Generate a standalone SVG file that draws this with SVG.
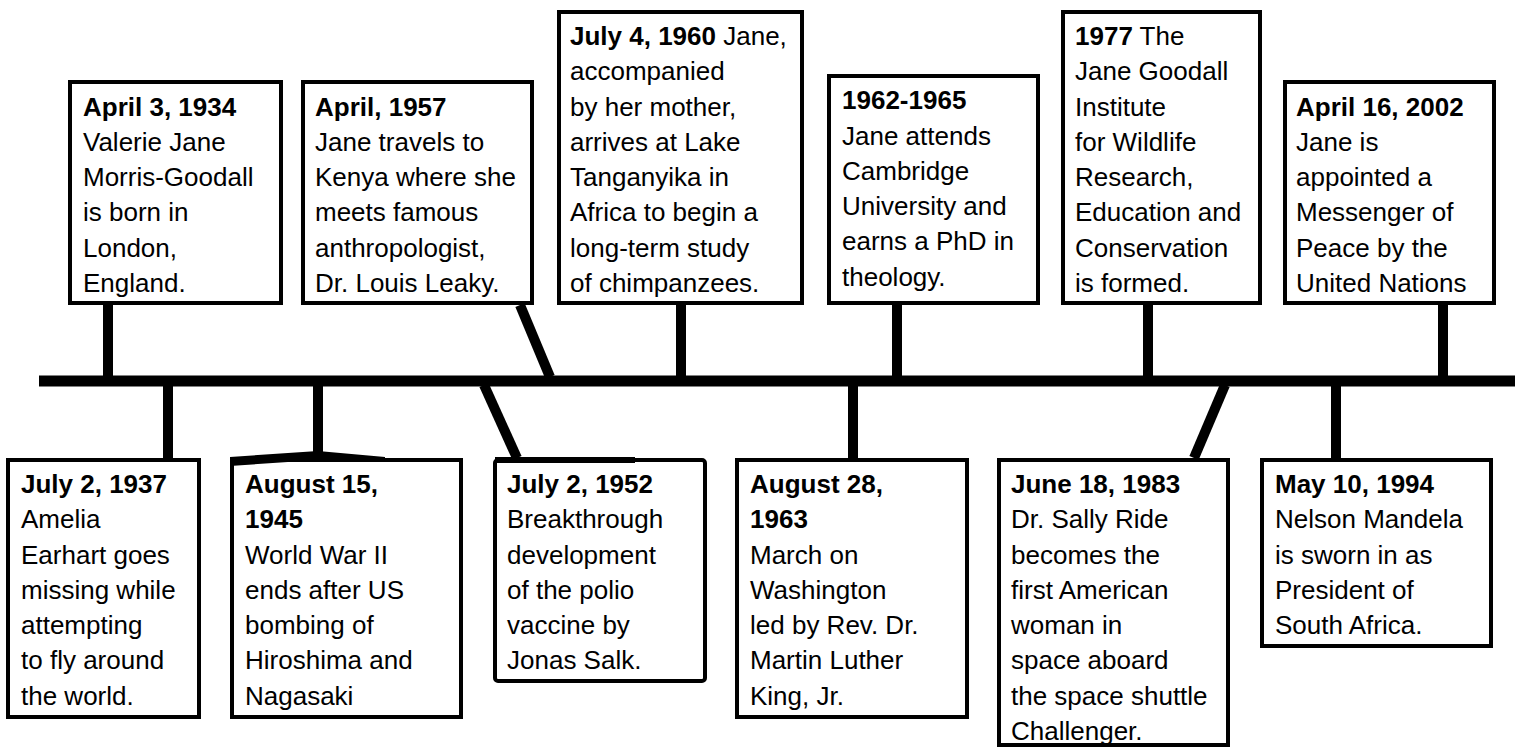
<svg xmlns="http://www.w3.org/2000/svg" width="1522" height="753" viewBox="0 0 1522 753">
<style>
.box{fill:#fff;stroke:#000;stroke-width:4}
.t{font-family:"Liberation Sans",Arial,sans-serif;font-size:26px;fill:#000}
.b{font-weight:bold}
.c{stroke:#000;stroke-width:10;fill:none}
</style>
<rect width="1522" height="753" fill="#fff"/>
<g id="connectors">
<line class="c" x1="39" y1="381" x2="1515" y2="381" style="stroke-width:11"/>
<line class="c" x1="108" y1="305" x2="108" y2="377"/>
<line class="c" x1="520" y1="305" x2="550" y2="377"/>
<line class="c" x1="681" y1="305" x2="681" y2="377"/>
<line class="c" x1="897" y1="305" x2="897" y2="377"/>
<line class="c" x1="1148" y1="305" x2="1148" y2="377"/>
<line class="c" x1="1443" y1="305" x2="1443" y2="377"/>
<line class="c" x1="168" y1="385" x2="168" y2="458"/>
<line class="c" x1="318" y1="385" x2="318" y2="453"/>
<line class="c" x1="484" y1="385" x2="517" y2="458"/>
<line class="c" x1="853" y1="385" x2="853" y2="458"/>
<line class="c" x1="1225" y1="385" x2="1194" y2="458"/>
<line class="c" x1="1336" y1="385" x2="1336" y2="458"/>
</g>
<g id="n1934">
<rect class="box" x="70" y="82" width="211" height="221"/>
<text class="t"><tspan class="b" x="83" y="116">April 3, 1934</tspan><tspan x="83" y="151">Valerie Jane</tspan><tspan x="83" y="186">Morris-Goodall</tspan><tspan x="83" y="221">is born in</tspan><tspan x="83" y="257">London,</tspan><tspan x="83" y="292">England.</tspan></text>
</g>
<g id="n1957">
<rect class="box" x="303" y="82" width="229" height="221"/>
<text class="t"><tspan class="b" x="315" y="116">April, 1957</tspan><tspan x="315" y="151">Jane travels to</tspan><tspan x="315" y="186">Kenya where she</tspan><tspan x="315" y="221">meets famous</tspan><tspan x="315" y="257">anthropologist,</tspan><tspan x="315" y="292">Dr. Louis Leaky.</tspan></text>
</g>
<g id="n1960">
<rect class="box" x="559" y="12" width="243" height="291"/>
<text class="t"><tspan class="b" x="570" y="45">July 4, 1960</tspan><tspan> Jane,</tspan><tspan x="570" y="80">accompanied</tspan><tspan x="570" y="116">by her mother,</tspan><tspan x="570" y="151">arrives at Lake</tspan><tspan x="570" y="186">Tanganyika in</tspan><tspan x="570" y="221">Africa to begin a</tspan><tspan x="570" y="257">long-term study</tspan><tspan x="570" y="292">of chimpanzees.</tspan></text>
</g>
<g id="n1962">
<rect class="box" x="829" y="76" width="209" height="227"/>
<text class="t"><tspan class="b" x="842" y="109">1962-1965</tspan><tspan x="842" y="145">Jane attends</tspan><tspan x="842" y="180">Cambridge</tspan><tspan x="842" y="215">University and</tspan><tspan x="842" y="250">earns a PhD in</tspan><tspan x="842" y="286">theology.</tspan></text>
</g>
<g id="n1977">
<rect class="box" x="1063" y="12" width="197" height="291"/>
<text class="t"><tspan class="b" x="1075" y="45">1977</tspan><tspan> The</tspan><tspan x="1075" y="80">Jane Goodall</tspan><tspan x="1075" y="116">Institute</tspan><tspan x="1075" y="151">for Wildlife</tspan><tspan x="1075" y="186">Research,</tspan><tspan x="1075" y="221">Education and</tspan><tspan x="1075" y="257">Conservation</tspan><tspan x="1075" y="292">is formed.</tspan></text>
</g>
<g id="n2002">
<rect class="box" x="1285" y="82" width="209" height="221"/>
<text class="t"><tspan class="b" x="1296" y="116">April 16, 2002</tspan><tspan x="1296" y="151">Jane is</tspan><tspan x="1296" y="186">appointed a</tspan><tspan x="1296" y="221">Messenger of</tspan><tspan x="1296" y="257">Peace by the</tspan><tspan x="1296" y="292">United Nations</tspan></text>
</g>
<g id="n1937">
<rect class="box" x="8" y="460" width="191" height="257"/>
<text class="t"><tspan class="b" x="21" y="493">July 2, 1937</tspan><tspan x="21" y="528">Amelia</tspan><tspan x="21" y="564">Earhart goes</tspan><tspan x="21" y="599">missing while</tspan><tspan x="21" y="634">attempting</tspan><tspan x="21" y="669">to fly around</tspan><tspan x="21" y="705">the world.</tspan></text>
</g>
<g id="n1945">
<rect class="box" x="232" y="460" width="229" height="257"/>
<polygon points="230,457 318,451 385,457 385,462 318,460 230,466" fill="#000"/>
<text class="t"><tspan class="b" x="245" y="493">August 15,</tspan><tspan class="b" x="245" y="528">1945</tspan><tspan x="245" y="564">World War II</tspan><tspan x="245" y="599">ends after US</tspan><tspan x="245" y="634">bombing of</tspan><tspan x="245" y="669">Hiroshima and</tspan><tspan x="245" y="705">Nagasaki</tspan></text>
</g>
<g id="n1952">
<rect class="box" x="495" y="460" width="210" height="221" rx="3"/>
<rect x="495" y="457" width="140" height="6" fill="#000"/>
<text class="t"><tspan class="b" x="507" y="493">July 2, 1952</tspan><tspan x="507" y="528">Breakthrough</tspan><tspan x="507" y="564">development</tspan><tspan x="507" y="599">of the polio</tspan><tspan x="507" y="634">vaccine by</tspan><tspan x="507" y="669">Jonas Salk.</tspan></text>
</g>
<g id="n1963">
<rect class="box" x="737" y="460" width="230" height="257"/>
<text class="t"><tspan class="b" x="750" y="493">August 28,</tspan><tspan class="b" x="750" y="528">1963</tspan><tspan x="750" y="564">March on</tspan><tspan x="750" y="599">Washington</tspan><tspan x="750" y="634">led by Rev. Dr.</tspan><tspan x="750" y="669">Martin Luther</tspan><tspan x="750" y="705">King, Jr.</tspan></text>
</g>
<g id="n1983">
<rect class="box" x="999" y="460" width="229" height="285"/>
<text class="t"><tspan class="b" x="1011" y="493">June 18, 1983</tspan><tspan x="1011" y="528">Dr. Sally Ride</tspan><tspan x="1011" y="564">becomes the</tspan><tspan x="1011" y="599">first American</tspan><tspan x="1011" y="634">woman in</tspan><tspan x="1011" y="669">space aboard</tspan><tspan x="1011" y="705">the space shuttle</tspan><tspan x="1011" y="740">Challenger.</tspan></text>
</g>
<g id="n1994">
<rect class="box" x="1262" y="460" width="229" height="186"/>
<text class="t"><tspan class="b" x="1275" y="493">May 10, 1994</tspan><tspan x="1275" y="528">Nelson Mandela</tspan><tspan x="1275" y="564">is sworn in as</tspan><tspan x="1275" y="599">President of</tspan><tspan x="1275" y="634">South Africa.</tspan></text>
</g>
</svg>
